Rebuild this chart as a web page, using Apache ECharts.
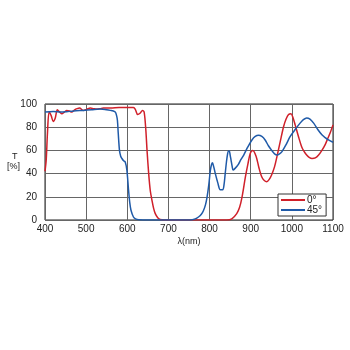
<!DOCTYPE html>
<html>
<head>
<meta charset="utf-8">
<script src="https://cdn.jsdelivr.net/npm/echarts@6/dist/echarts.min.js"></script>
<style>
  html, body { margin: 0; padding: 0; background: #fff; }
  #chart { width: 350px; height: 350px; }
</style>
</head>
<body>
<div id="chart"></div>
<script>
// 波長 (nm) と透過率 (%)
const red0Wave = [400, 403, 406, 410, 415, 420, 425, 430, 436, 441, 447, 453, 459, 465, 472, 478, 484, 493, 502, 510, 518, 526, 534, 542, 560, 580, 600, 615, 620, 625, 631, 637, 641, 645, 648, 652, 656, 660, 664, 668, 674, 680, 700, 750, 800, 842, 854, 866, 873, 879, 887, 893, 899, 905, 913, 920, 927, 933, 939, 945, 951, 958, 964, 972, 980, 986, 992, 998, 1003, 1008, 1016, 1024, 1030, 1036, 1042, 1049, 1057, 1065, 1073, 1081, 1087, 1093, 1100];
const red0T = [42, 52, 75, 93, 90, 85, 88, 95, 93, 91.5, 93, 94.5, 94, 93, 95, 96, 96.5, 94.5, 95.5, 96.5, 96, 95.6, 96, 96.5, 96.5, 97, 97, 97, 95, 91, 92, 94.5, 93, 78, 60, 40, 25, 17, 10, 5.5, 2, 0.5, 0, 0, 0, 0, 1, 5.5, 11, 20, 37, 48, 57.5, 60, 55, 45, 37, 34, 33, 35, 39, 46, 55, 68, 80.6, 87, 91, 91.6, 88, 82, 72, 63, 59, 56, 54, 53, 53.5, 56, 60, 65, 70, 75, 82];

const blue45Wave = [400, 420, 440, 453, 470, 493, 513, 534, 550, 559, 566, 571, 574, 576, 578, 581, 584, 587, 591, 595, 599, 603, 606, 609, 615, 620, 628, 650, 700, 753, 765, 773, 780, 785, 790, 794, 798, 802, 805, 807, 810, 814, 820, 826, 832, 835, 838, 841, 844, 846, 848, 850, 852, 855, 857, 862, 870, 876, 883, 893, 903, 911, 919, 927, 935, 943, 951, 958, 964, 970, 976, 986, 996, 1008, 1020, 1028, 1036, 1044, 1053, 1063, 1073, 1081, 1089, 1100];
const blue45T = [93, 93.5, 93, 93.4, 94, 94.5, 95, 95.6, 95, 94.5, 94, 93, 90, 86, 75, 60, 55, 53, 51, 50, 43, 26, 15, 8.4, 2.6, 1, 0.3, 0, 0, 0, 1, 2.6, 5, 8, 13, 20, 30, 43, 48, 49.4, 46, 40, 32, 26, 26, 30, 40, 50, 57.5, 59.5, 59.5, 56, 52, 46, 43, 44.5, 48, 52, 56, 63, 69, 72, 73, 72, 69, 64, 60, 57, 56, 57, 59, 65, 72, 78, 83.5, 86.5, 88, 87, 83.5, 78, 73.4, 71, 69, 67];

const xTicks = [400, 500, 600, 700, 800, 900, 1000, 1100];
const yTicks = [0, 20, 40, 60, 80, 100];

function 配对(波长, 透过) {
    return 波长.map((w, i) => [w, 透过[i]]);
}

var chartDom = document.getElementById('chart');
var myChart = echarts.init(chartDom);
var option = {
    animation: false,
    textStyle: { fontFamily: 'Liberation Sans, Arial, sans-serif' },
    grid: {
        left: 45, right: 17, top: 104, bottom: 130,
        show: true, borderColor: '#222', borderWidth: 1
    },
    legend: {
        orient: 'vertical',
        left: 278, top: 194,
        backgroundColor: '#fff',
        borderColor: '#333', borderWidth: 1,
        padding: [1, 4, 1, 3],
        itemGap: 0,
        itemWidth: 24, itemHeight: 2,
        icon: 'rect',
        textStyle: { fontSize: 10, color: '#222', padding: [0, 0, 0, -3] },
        data: ['0°', '45°']
    },
    xAxis: {
        type: 'value',
        min: xTicks[0], max: xTicks[xTicks.length - 1], interval: 100,
        name: 'λ(nm)',
        nameLocation: 'middle',
        nameGap: 17,
        nameTextStyle: { fontSize: 9, color: '#222' },
        axisLine: { show: false },
        axisTick: { show: false },
        axisLabel: { fontSize: 10, color: '#222', margin: 4, formatter: v => String(v) },
        splitLine: { show: true, lineStyle: { color: '#666', width: 1 } }
    },
    yAxis: {
        type: 'value',
        min: yTicks[0], max: yTicks[yTicks.length - 1], interval: 20,
        axisLine: { show: false },
        axisTick: { show: false },
        axisLabel: { fontSize: 10, color: '#222', margin: 8, formatter: v => String(v) },
        splitLine: { show: true, lineStyle: { color: '#666', width: 1 } }
    },
    graphic: [
        {
            type: 'text', left: 7, top: 152,
            style: { text: '  T\n[%]', fontSize: 9, fill: '#222', lineHeight: 10, fontFamily: 'Liberation Sans, Arial, sans-serif' }
        }
    ],
    series: [
        {
            name: '0°',
            type: 'line',
            data: 配对(red0Wave, red0T),
            smooth: 0.3,
            symbol: 'none',
            lineStyle: { color: '#d0202a', width: 1.5 },
            itemStyle: { color: '#d0202a' }
        },
        {
            name: '45°',
            type: 'line',
            data: 配对(blue45Wave, blue45T),
            smooth: 0.3,
            symbol: 'none',
            lineStyle: { color: '#1f5aa8', width: 1.5 },
            itemStyle: { color: '#1f5aa8' }
        }
    ]
};
option && myChart.setOption(option);
</script>
</body>
</html>
